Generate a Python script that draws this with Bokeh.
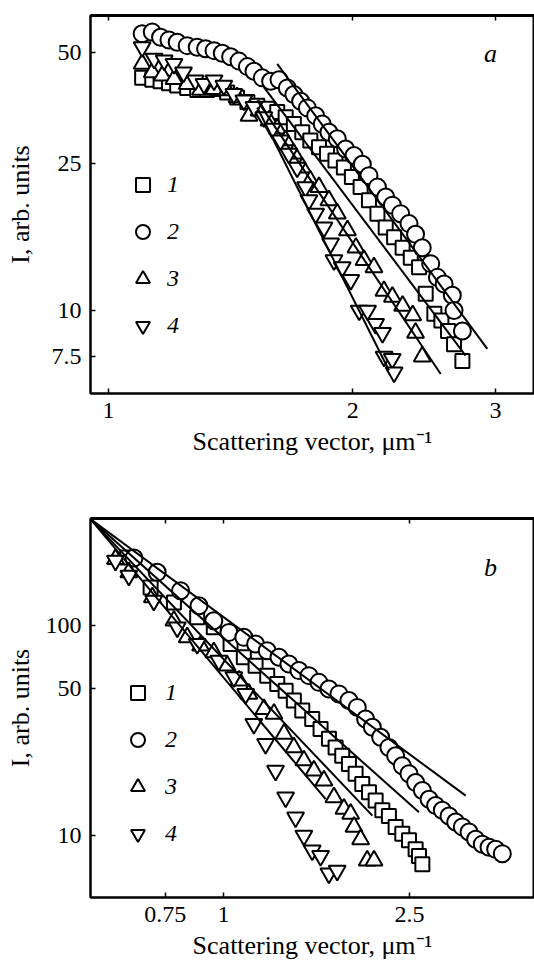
from bokeh.plotting import figure
from bokeh.layouts import column
from bokeh.models import (FixedTicker, CustomJSTickFormatter, Legend, LegendItem,
                          Label, LogAxis, Range1d)
from bokeh.core.properties import value
from bokeh.embed import file_html
from bokeh.resources import INLINE

# ---------------- Panel a data ----------------
a_q1 = [1.100, 1.132, 1.159, 1.187, 1.215, 1.250, 1.286, 1.323, 1.361, 1.400,
        1.440, 1.483, 1.525, 1.570, 1.614, 1.653, 1.692, 1.733, 1.773, 1.817,
        1.859, 1.904, 1.950, 1.995, 2.045, 2.094, 2.145, 2.196, 2.249, 2.304,
        2.358, 2.414, 2.460, 2.521, 2.572, 2.621, 2.666, 2.730]
a_I1 = [42.7, 42.2, 41.8, 41.3, 40.7, 40.1, 39.6, 39.6, 39.8, 39.0,
        37.8, 36.7, 35.9, 35.2, 34.5, 33.4, 32.0, 30.4, 28.9, 27.7,
        26.6, 25.5, 24.4, 23.0, 21.6, 19.9, 18.3, 16.8, 15.8, 14.8,
        13.9, 13.1, 11.1, 9.8, 9.4, 8.8, 8.1, 7.3]
a_q2 = [1.100, 1.132, 1.159, 1.187, 1.215, 1.250, 1.286, 1.317, 1.349, 1.381,
        1.414, 1.448, 1.483, 1.511, 1.547, 1.584, 1.622, 1.661, 1.692, 1.725,
        1.758, 1.800, 1.834, 1.869, 1.914, 1.960, 2.007, 2.055, 2.094, 2.145,
        2.196, 2.238, 2.291, 2.346, 2.390, 2.436, 2.495, 2.543, 2.592, 2.653,
        2.666, 2.730]
a_I2 = [56.2, 56.8, 55.0, 54.1, 53.3, 52.2, 51.7, 51.2, 50.6, 49.8,
        48.7, 47.4, 45.8, 44.5, 42.7, 41.8, 42.2, 40.1, 38.5, 36.9,
        35.4, 33.7, 32.0, 30.4, 29.2, 27.4, 26.3, 24.9, 23.2, 21.6,
        20.3, 19.3, 18.3, 17.2, 16.1, 14.8, 13.4, 12.3, 11.8, 11.0,
        10.0, 8.8]
a_q3 = [1.100, 1.132, 1.165, 1.204, 1.250, 1.298, 1.349, 1.400, 1.440, 1.490,
        1.533, 1.577, 1.614, 1.653, 1.692, 1.733, 1.773, 1.817, 1.869, 1.914,
        1.970, 2.018, 2.065, 2.124, 2.185, 2.238, 2.304, 2.371, 2.390, 2.436]
a_I3 = [46.6, 44.2, 43.3, 42.4, 41.1, 39.6, 39.8, 39.5, 37.8, 33.7,
        34.8, 32.7, 31.1, 28.9, 26.6, 24.4, 22.5, 21.6, 19.9, 18.3,
        16.5, 14.8, 13.7, 13.1, 11.3, 10.9, 10.3, 9.7, 8.7, 7.5]
a_q4 = [1.100, 1.138, 1.171, 1.204, 1.237, 1.279, 1.311, 1.349, 1.387, 1.427,
        1.468, 1.511, 1.554, 1.592, 1.629, 1.668, 1.708, 1.749, 1.766, 1.800,
        1.843, 1.878, 1.896, 1.941, 1.989, 2.037, 2.086, 2.134, 2.176, 2.186,
        2.237, 2.249]
a_I4 = [51.7, 48.1, 47.6, 46.6, 44.2, 42.0, 41.1, 42.0, 40.7, 38.6,
        37.1, 35.6, 33.4, 31.1, 28.9, 26.6, 24.4, 21.6, 19.9, 18.3,
        16.8, 15.2, 13.7, 13.1, 12.1, 10.0, 10.0, 9.2, 8.7, 7.5,
        7.4, 6.8]
# power-law fits (start/end) for curves 1..4
a_fit_q0 = [1.554, 1.614, 1.525, 1.525]
a_fit_q1 = [2.755, 2.930, 2.567, 2.217]
a_fit_I0 = [40.3, 46.6, 37.1, 35.5]
a_fit_I1 = [7.55, 7.87, 6.73, 6.88]
a_xticks = [1, 2, 3]
a_yticks = [7.5, 10, 25, 50]

# ---------------- Panel b data ----------------
b_q1 = [0.622, 0.698, 0.783, 0.878, 0.953, 1.035, 1.105, 1.171, 1.240, 1.303,
        1.358, 1.414, 1.474, 1.548, 1.613, 1.681, 1.737, 1.795, 1.855, 1.917,
        1.981, 2.048, 2.116, 2.187, 2.259, 2.335, 2.413, 2.494, 2.577, 2.620,
        2.664]
b_I1 = [211.5, 152.2, 129.1, 109.6, 98.2, 81.8, 70.7, 64.5, 57.8, 52.7,
        49.0, 44.0, 39.4, 35.9, 32.2, 28.9, 26.3, 24.0, 21.9, 19.7,
        17.6, 16.1, 14.7, 13.2, 12.4, 11.0, 10.2, 9.5, 8.6, 8.0,
        7.3]
b_q2 = [0.643, 0.721, 0.809, 0.886, 0.953, 1.027, 1.105, 1.171, 1.240, 1.314,
        1.380, 1.450, 1.523, 1.600, 1.681, 1.766, 1.855, 1.933, 2.014, 2.082,
        2.169, 2.259, 2.335, 2.413, 2.494, 2.577, 2.664, 2.753, 2.844, 2.939,
        3.038, 3.139, 3.244, 3.353, 3.464, 3.580, 3.700, 3.823, 3.951]
b_I2 = [210.0, 179.5, 146.8, 124.5, 105.6, 92.9, 88.0, 81.8, 76.0, 70.7,
        65.7, 61.1, 57.8, 53.7, 49.9, 47.3, 44.0, 40.8, 35.9, 32.8,
        29.4, 26.3, 24.0, 21.5, 19.7, 17.9, 16.4, 14.9, 13.9, 13.2,
        12.4, 11.6, 11.0, 10.4, 9.6, 9.1, 8.8, 8.6, 8.2]
b_q3 = [0.587, 0.627, 0.704, 0.783, 0.836, 0.893, 0.953, 1.018, 1.079, 1.133,
        1.220, 1.282, 1.347, 1.414, 1.486, 1.561, 1.640, 1.723, 1.810, 1.871,
        1.902, 1.965, 2.030, 2.099]
b_I3 = [207.7, 179.5, 136.4, 105.6, 88.0, 80.3, 74.6, 64.5, 54.7, 47.3,
        40.1, 38.0, 30.5, 26.3, 22.8, 20.4, 18.3, 15.2, 13.4, 12.7,
        11.0, 9.6, 7.6, 7.6]
b_q4 = [0.587, 0.627, 0.709, 0.796, 0.878, 0.977, 1.052, 1.115, 1.161, 1.230,
        1.292, 1.358, 1.426, 1.486, 1.548, 1.613, 1.681, 1.751]
b_I4 = [204.0, 173.0, 131.5, 98.2, 81.8, 68.1, 56.8, 47.3, 34.0, 27.3,
        20.4, 15.2, 12.2, 10.0, 8.5, 8.0, 6.6, 6.8]
b_fit_q0 = [0.519, 0.519, 0.519, 0.519]
b_fit_q1 = [2.620, 3.298, 2.082, 1.654]
b_fit_I0 = [322.0, 322.0, 322.0, 322.0]
b_fit_I1 = [12.9, 15.5, 12.45, 14.9]
b_xticks = [0.75, 1, 2.5]
b_yticks = [10, 50, 100]

series_labels = ["1", "2", "3", "4"]
markers = ["square", "circle", "triangle", "inverted_triangle"]
marker_sizes = [14, 17, 17, 17]

FONT = "Liberation Serif"


def make_panel(xr, yr, xticks, yticks, qs, Is, fq0, fq1, fI0, fI1, fh,
               top, bottom, letter, letter_pos, legend_loc, legend_standoff, ylab_standoff):
    p = figure(x_axis_type="log", y_axis_type="log",
               x_range=Range1d(*xr), y_range=Range1d(*yr),
               frame_width=444, frame_height=fh,
               min_border_left=90, min_border_right=0,
               min_border_top=top, min_border_bottom=bottom,
               output_backend="svg", toolbar_location=None)
    p.grid.visible = False
    p.background_fill_color = "white"
    p.border_fill_color = "white"
    p.outline_line_color = "black"
    p.outline_line_width = 2

    p.xaxis.ticker = FixedTicker(ticks=xticks, minor_ticks=[])
    p.yaxis.ticker = FixedTicker(ticks=yticks, minor_ticks=[])
    p.xaxis.formatter = CustomJSTickFormatter(code="return tick.toString()")
    p.yaxis.formatter = CustomJSTickFormatter(code="return tick.toString()")
    for ax in (p.xaxis[0], p.yaxis[0]):
        ax.axis_line_width = 2
        ax.major_tick_in = 5
        ax.major_tick_out = 0
        ax.major_tick_line_width = 1.5
        ax.minor_tick_line_color = None
        ax.major_label_text_font = FONT
        ax.major_label_text_font_size = "24px"
        ax.major_label_text_color = "black"
        ax.major_label_standoff = 9
        ax.axis_label_text_font = FONT
        ax.axis_label_text_font_size = "26px"
        ax.axis_label_text_font_style = "normal"
        ax.axis_label_text_color = "black"
    p.xaxis.axis_label = "Scattering vector, μm⁻¹"
    p.xaxis.axis_label_standoff = 6
    p.yaxis.axis_label = "I, arb. units"
    p.yaxis.axis_label_standoff = ylab_standoff

    top_axis = LogAxis(ticker=FixedTicker(ticks=xticks, minor_ticks=[]),
                       formatter=CustomJSTickFormatter(code="return ''"),
                       axis_line_width=3, major_tick_in=5, major_tick_out=0,
                       major_tick_line_width=1.5, minor_tick_line_color=None,
                       major_label_standoff=0, major_label_text_font_size="1px")
    p.add_layout(top_axis, "above")

    items = []
    for i in range(4):
        r = p.scatter(qs[i], Is[i], marker=markers[i], size=marker_sizes[i],
                      fill_color="white", line_color="black", line_width=2)
        items.append(LegendItem(label=value(series_labels[i]), renderers=[r]))
    for i in range(4):
        p.line([fq0[i], fq1[i]], [fI0[i], fI1[i]], line_color="black", line_width=2)

    leg = Legend(items=items, location=legend_loc, orientation="vertical",
                 glyph_width=35, glyph_height=35, label_height=35, spacing=12,
                 padding=0, margin=0, label_standoff=legend_standoff,
                 border_line_color=None, background_fill_alpha=0,
                 label_text_font=FONT, label_text_font_style="italic",
                 label_text_font_size="24px", label_text_color="black")
    p.add_layout(leg, "center")

    p.add_layout(Label(x=letter_pos[0], y=letter_pos[1], x_units="screen", y_units="screen",
                       text=letter, text_font=FONT, text_font_style="italic",
                       text_font_size="26px", text_align="center", text_baseline="middle",
                       text_color="black"))
    return p


pa = make_panel((0.950, 3.35), (5.96, 63.0), a_xticks, a_yticks,
                [a_q1, a_q2, a_q3, a_q4], [a_I1, a_I2, a_I3, a_I4],
                a_fit_q0, a_fit_q1, a_fit_I0, a_fit_I1, fh=378,
                top=15, bottom=72, letter="a", letter_pos=(400, 340),
                legend_loc=(35, 50), legend_standoff=7, ylab_standoff=14)
pb = make_panel((0.519, 4.63), (5.07, 324.0), b_xticks, b_yticks,
                [b_q1, b_q2, b_q3, b_q4], [b_I1, b_I2, b_I3, b_I4],
                b_fit_q0, b_fit_q1, b_fit_I0, b_fit_I1, fh=379,
                top=53, bottom=73, letter="b", letter_pos=(400, 330),
                legend_loc=(30, 46), legend_standoff=10, ylab_standoff=8)

layout = column(pa, pb, spacing=0)
open("out.html", "w").write(file_html(layout, INLINE))
